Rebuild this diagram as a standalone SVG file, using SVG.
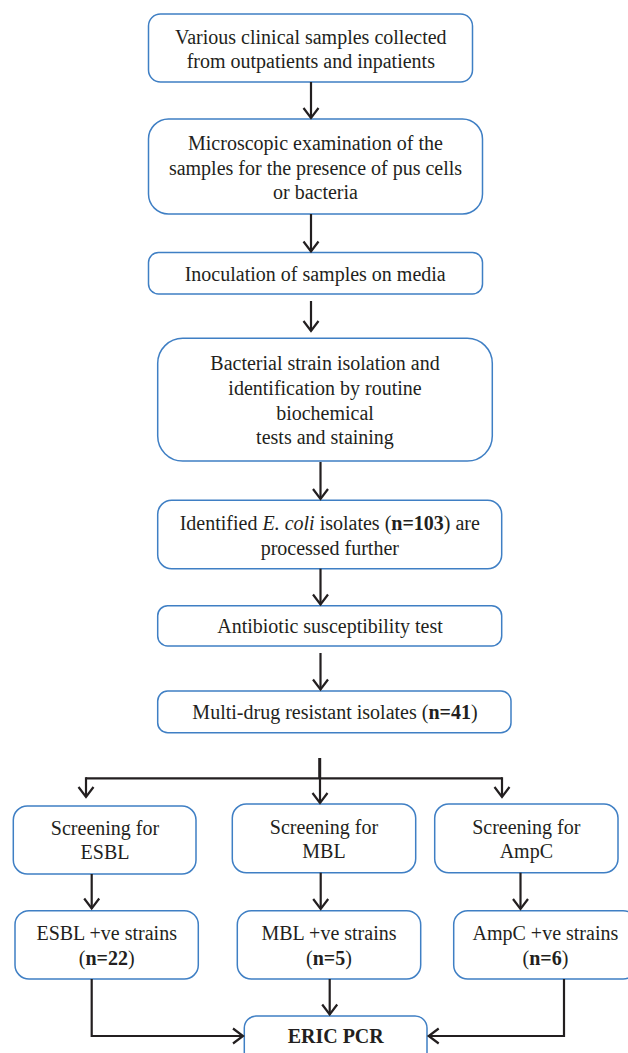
<svg xmlns="http://www.w3.org/2000/svg" width="628" height="1053" viewBox="0 0 628 1053">
<defs>
<marker id="arr" markerUnits="userSpaceOnUse" markerWidth="20" markerHeight="20" viewBox="-12 -10 14 20" refX="0" refY="0" orient="auto">
<path d="M-10,-7.5 L0,0 L-10,7.5" fill="none" stroke="#231f20" stroke-width="2.2"/>
</marker>
</defs>
<style>
.box{fill:#fff;stroke:#3f7fc4;stroke-width:1.5}
.t{font-family:'Liberation Serif','Times New Roman',Times,'DejaVu Serif',serif;font-size:20px;fill:#231f20;text-anchor:middle}
.c{fill:none;stroke:#231f20;stroke-width:2.2}
.b{font-weight:bold}
.i{font-style:italic}
</style>
<rect width="628" height="1053" fill="#fff"/>
<g id="n1"><rect class="box" x="148.5" y="14" width="324" height="68" rx="12"/>
<text class="t" font-family="Liberation Serif, serif" x="310.8" y="44">Various clinical samples collected</text>
<text class="t" x="310.8" y="68">from outpatients and inpatients</text></g>
<g id="n2"><rect class="box" x="148.5" y="119" width="334" height="95" rx="20"/>
<text class="t" x="315.5" y="150">Microscopic examination of the</text>
<text class="t" x="315.5" y="174.5">samples for the presence of pus cells</text>
<text class="t" x="315.5" y="199">or bacteria</text></g>
<g id="n3"><rect class="box" x="148.5" y="252.5" width="334" height="41.5" rx="10"/>
<text class="t" x="315.2" y="281">Inoculation of samples on media</text></g>
<g id="n4"><rect class="box" x="157.7" y="338.3" width="334.6" height="122.7" rx="25"/>
<text class="t" x="325" y="370">Bacterial strain isolation and</text>
<text class="t" x="325" y="395">identification by routine</text>
<text class="t" x="325" y="419.5">biochemical</text>
<text class="t" x="325" y="444">tests and staining</text></g>
<g id="n5"><rect class="box" x="157.7" y="500.3" width="344" height="68.4" rx="14"/>
<text class="t" x="329.8" y="530">Identified <tspan class="i">E. coli</tspan> isolates (<tspan class="b">n=103</tspan>) are</text>
<text class="t" x="329.8" y="555">processed further</text></g>
<g id="n6"><rect class="box" x="157.7" y="605.7" width="344" height="40.3" rx="10"/>
<text class="t" x="330" y="633">Antibiotic susceptibility test</text></g>
<g id="n7"><rect class="box" x="157.7" y="691" width="353.3" height="41.7" rx="10"/>
<text class="t" x="335" y="719.3">Multi-drug resistant isolates (<tspan class="b">n=41</tspan>)</text></g>
<g id="n8"><rect class="box" x="13.3" y="806" width="182.7" height="68" rx="14"/>
<text class="t" x="105" y="835">Screening for</text>
<text class="t" x="105" y="859.3">ESBL</text></g>
<g id="n9"><rect class="box" x="232.3" y="804" width="183.4" height="68.7" rx="14"/>
<text class="t" x="324" y="834">Screening for</text>
<text class="t" x="324" y="858">MBL</text></g>
<g id="n10"><rect class="box" x="434.7" y="804" width="183.3" height="68.7" rx="14"/>
<text class="t" x="526.3" y="834">Screening for</text>
<text class="t" x="526.3" y="858">AmpC</text></g>
<g id="n11"><rect class="box" x="15" y="910.7" width="183.3" height="68.3" rx="14"/>
<text class="t" x="106.7" y="940">ESBL +ve strains</text>
<text class="t" x="106.7" y="965">(<tspan class="b">n=22</tspan>)</text></g>
<g id="n12"><rect class="box" x="237.3" y="910.7" width="183.4" height="68.3" rx="14"/>
<text class="t" x="329" y="940">MBL +ve strains</text>
<text class="t" x="329" y="965">(<tspan class="b">n=5</tspan>)</text></g>
<g id="n13"><rect class="box" x="453.7" y="910.7" width="183.4" height="68.3" rx="14"/>
<text class="t" x="545.4" y="940">AmpC +ve strains</text>
<text class="t" x="545.4" y="965">(<tspan class="b">n=6</tspan>)</text></g>
<g id="n14"><rect class="box" x="244.3" y="1016" width="182.7" height="50" rx="12"/>
<text class="t b" x="335.7" y="1043">ERIC PCR</text></g>
<g id="connectors">
<path class="c" d="M311,82 V118" marker-end="url(#arr)"/>
<path class="c" d="M311,214 V251.5" marker-end="url(#arr)"/>
<path class="c" d="M311,301 V331" marker-end="url(#arr)"/>
<path class="c" d="M320.5,462 V499" marker-end="url(#arr)"/>
<path class="c" d="M320.5,568.7 V604.5" marker-end="url(#arr)"/>
<path class="c" d="M320.5,653 V689.5" marker-end="url(#arr)"/>
<path class="c" d="M319.7,758 V778.3" style="stroke-width:3"/>
<path class="c" d="M320,778.3 V803" marker-end="url(#arr)"/>
<path class="c" d="M86,778.3 H502"/>
<path class="c" d="M86,777.2 V797" marker-end="url(#arr)"/>
<path class="c" d="M502,777.2 V797" marker-end="url(#arr)"/>
<path class="c" d="M91.7,874 V908.5" marker-end="url(#arr)"/>
<path class="c" d="M320.7,872.7 V909" marker-end="url(#arr)"/>
<path class="c" d="M520.5,872.7 V909" marker-end="url(#arr)"/>
<path class="c" d="M91.7,979 V1036 H243" marker-end="url(#arr)"/>
<path class="c" d="M329.7,979 V1014.5" marker-end="url(#arr)"/>
<path class="c" d="M564,979 V1036 H428.7" marker-end="url(#arr)"/>
</g>
</svg>
